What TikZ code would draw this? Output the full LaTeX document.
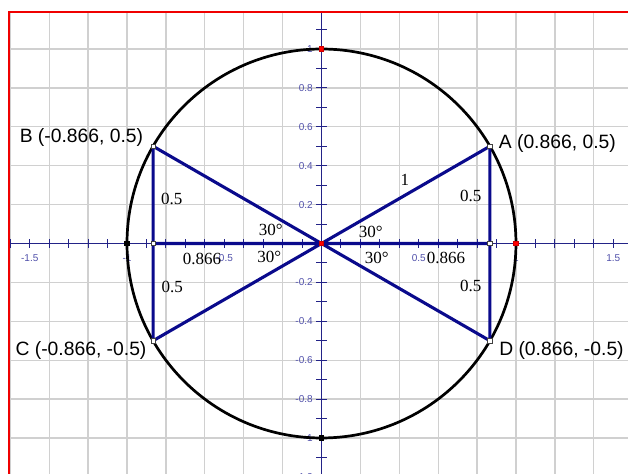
\documentclass[tikz,border=0pt]{standalone}
\usepackage{fontspec}
\setmainfont{Liberation Serif}
\newfontfamily\arialfont{Liberation Sans}
\usetikzlibrary{positioning}
\definecolor{gridgray}{RGB}{208,208,208}
\definecolor{axisblue}{RGB}{35,35,135}
\definecolor{ticktext}{RGB}{80,80,170}
\definecolor{navyline}{RGB}{10,10,140}
\definecolor{framered}{RGB}{240,0,0}

\begin{document}
\begin{tikzpicture}[x=194.5pt,y=194.5pt,
    ticklabel/.style={font=\arialfont\fontsize{10}{12}\selectfont,text=ticktext,inner sep=0pt},
    measure/.style={font=\fontsize{17}{20}\selectfont,inner sep=0pt},
    ptlabel/.style={font=\arialfont\fontsize{19.3}{22}\selectfont,inner sep=0pt},
    ptmark/.style={draw=black!75,fill=white,line width=0.6pt,minimum size=4.5pt,inner sep=0pt}]
  \useasboundingbox (-1.653,-1.185) rectangle (1.576,1.252);
  \fill[white] (-1.653,-1.185) rectangle (1.576,1.252);
  \coordinate (O) at (0,0);
  \coordinate (A) at (0.866,0.5);
  \coordinate (B) at (-0.866,0.5);
  \coordinate (C) at (-0.866,-0.5);
  \coordinate (D) at (0.866,-0.5);
  \coordinate (A0) at (0.866,0);
  \coordinate (B0) at (-0.866,0);
  \begin{scope}
    \clip (-1.607,-1.185) rectangle (1.576,1.189);
    % grid
    \draw[gridgray,line width=1.3pt] (-1.6,-1.2) grid[step=0.2] (1.6,1.2);
    % axes and ticks
    \draw[axisblue,line width=1.1pt] (-1.7,0) -- (1.7,0);
    \draw[axisblue,line width=1.1pt] (0,-1.3) -- (0,1.3);
    \foreach \t in {-16,...,16}
      \draw[axisblue,line width=0.9pt] (\t/10,-0.023) -- (\t/10,0.023);
    \foreach \t in {-12,...,12}
      \draw[axisblue,line width=0.9pt] (-0.026,\t/10) -- (0.026,\t/10);
    \foreach \v [count=\i] in {-1.5,-1,-0.5,0.5,1,1.5}
      \node[ticklabel] (xl\i) at (\v,-0.0746) {\v};
    \foreach \v [count=\i] in {-1.2,-1,-0.8,-0.6,-0.4,-0.2,0.2,0.4,0.6,0.8,1,1.2}
      \node[ticklabel,anchor=east] (yl\i) at (-0.044,\v) {\v};
    % unit circle
    \draw[black,line width=2.7pt] (O) circle (1);
    % triangles
    \draw[navyline,line width=3.1pt] (O) -- (A) (O) -- (B) (O) -- (C) (O) -- (D)
      (A) -- (D) (B) -- (C) (B0) -- (A0);
  \end{scope}
  % points
  \foreach \p in {A,B,C,D,A0,B0}
    \node[ptmark] (m\p) at (\p) {};
  \node[ptmark,fill=red,draw=red!80!black] (mO) at (O) {};
  \node[ptmark,fill=red,draw=red!80!black] (mX) at (1,0) {};
  \node[ptmark,fill=red,draw=red!80!black] (mY) at (0,1) {};
  \node[ptmark,fill=black,draw=black] (mXm) at (-1,0) {};
  \node[ptmark,fill=black,draw=black] (mYm) at (0,-1) {};
  % lengths and angles
  \node[measure] (hyp) at (0.429,0.326) {1};
  \node[measure] (sAu) at (0.767,0.244) {0.5};
  \node[measure] (sDl) at (0.767,-0.219) {0.5};
  \node[measure] (sBu) at (-0.770,0.227) {0.5};
  \node[measure] (sCl) at (-0.767,-0.222) {0.5};
  \node[measure] (aRu) at (0.254,0.062) {30°};
  \node[measure] (aRl) at (0.284,-0.073) {30°};
  \node[measure] (aLu) at (-0.261,0.069) {30°};
  \node[measure] (aLl) at (-0.268,-0.068) {30°};
  \node[measure] (cL) at (-0.614,-0.080) {0.866};
  \node[measure] (cR) at (0.640,-0.072) {0.866};
  % point labels
  \node[ptlabel,anchor=west] (lA) at (0.911,0.515) {A (0.866, 0.5)};
  \node[ptlabel,anchor=east] (lB) at (-0.916,0.546) {B (-0.866, 0.5)};
  \node[ptlabel,anchor=east] (lC) at (-0.899,-0.551) {C (-0.866, -0.5)};
  \node[ptlabel,anchor=west] (lD) at (0.913,-0.548) {D (0.866, -0.5)};
  % frame
  \draw[framered,line width=2.5pt] (-1.607,-1.3) -- (-1.607,1.189) -- (1.7,1.189);
\end{tikzpicture}
\end{document}
